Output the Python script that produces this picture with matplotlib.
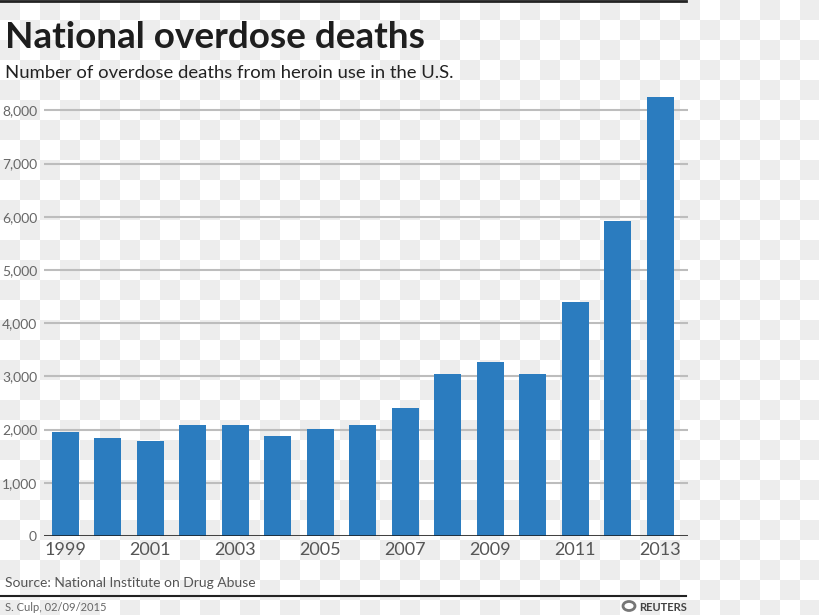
import matplotlib
matplotlib.use("Agg")
import matplotlib.pyplot as plt
from matplotlib.lines import Line2D
from matplotlib.patches import Circle
import numpy as np

years = list(range(1999, 2014))
deaths = [1960, 1842, 1779, 2089, 2080, 1878, 2009, 2088, 2399, 3041,
          3278, 3036, 4397, 5925, 8257]
yticks = [0, 1000, 2000, 3000, 4000, 5000, 6000, 7000, 8000]
xlabels = [str(y) if y % 2 == 1 else "" for y in years]

W, H = 820, 615
fig = plt.figure(figsize=(W / 100, H / 100), dpi=100)

# checkerboard background (as in the reference picture)
bg = fig.add_axes([0, 0, 1, 1], zorder=0)
ii, jj = np.meshgrid(np.arange(42), np.arange(32))
board = ((ii + jj) % 2 == 0).astype(float)
bg.imshow(board, cmap="gray_r", vmin=0, vmax=14, extent=(0, 840, 640, 0),
          interpolation="nearest", aspect="auto")
bg.set_xlim(0, W)
bg.set_ylim(H, 0)
bg.axis("off")

ax = fig.add_axes([44 / W, 1 - 536 / H, (688 - 44) / W, (536 - 89) / H], zorder=1)
ax.patch.set_alpha(0)

x = np.arange(len(years))
ax.bar(x, deaths, width=0.64, color="#2b7cbf", zorder=3)
ax.set_xlim(-0.5, len(years) - 0.35)
ax.set_ylim(0, 8400)

ax.set_yticks(yticks)
ax.set_yticklabels([f"{v:,}" for v in yticks])
ax.set_xticks(x)
ax.set_xticklabels(xlabels)
ax.grid(axis="y", color="#bdbdbd", linewidth=1.5, zorder=1)
ax.axhline(0, color="#1a1a1a", linewidth=1.8, zorder=4)
for s in ax.spines.values():
    s.set_visible(False)
ax.tick_params(axis="both", length=0)
ax.tick_params(axis="y", pad=5, labelsize=10, labelcolor="#666666")
ax.tick_params(axis="x", pad=4, labelsize=13, labelcolor="#555555")
for lab in ax.get_yticklabels() + ax.get_xticklabels():
    lab.set_family("Lato")

fig.text(5 / W, 1 - 48 / H, "National overdose deaths", family="Lato",
         weight="bold", fontsize=26.6, color="#1e1e1e")
fig.text(5 / W, 1 - 78 / H, "Number of overdose deaths from heroin use in the U.S.",
         family="Lato", fontsize=13.3, color="#222222")
fig.text(5 / W, 1 - 587 / H, "Source: National Institute on Drug Abuse",
         family="Lato", fontsize=10, color="#555555")
fig.text(5 / W, 1 - 611 / H, "S. Culp, 02/09/2015",
         family="Lato", fontsize=8, color="#666666")
fig.text(687 / W, 1 - 611 / H, "REUTERS", family="Lato", weight="bold",
         fontsize=8, color="#444444", ha="right")
fig.add_artist(Circle((629 / W, 1 - 606 / H), 6 / W, transform=fig.transFigure,
                      facecolor="none", edgecolor="#777777", linewidth=2))

fig.add_artist(Line2D([0, 686 / W], [1 - 1 / H, 1 - 1 / H], color="#222222",
                      linewidth=2, transform=fig.transFigure))
fig.add_artist(Line2D([0, 686 / W], [1 - 596 / H, 1 - 596 / H], color="#222222",
                      linewidth=1.5, transform=fig.transFigure))

fig.savefig("out.png", dpi=100)
